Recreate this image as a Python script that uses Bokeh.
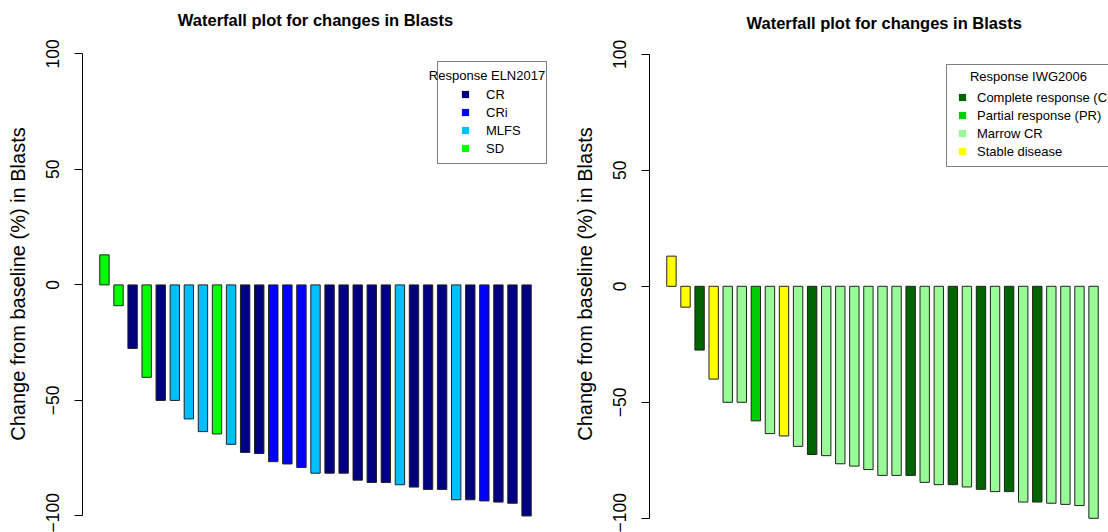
from bokeh.plotting import figure
from bokeh.models import FixedTicker, Legend, LegendItem, Label, ColumnDataSource
from bokeh.layouts import row
from bokeh.transform import factor_cmap
from bokeh.embed import file_html
from bokeh.resources import INLINE

# ---------------- data ----------------
blast_change = [13, -9, -27.5, -40, -50, -50, -58, -63.5, -64.5, -69,
                -72.5, -73, -76.5, -77.5, -79, -81.5, -81.5, -81.5, -84.5, -85.5,
                -85.5, -86.5, -87.5, -88.5, -88.5, -93, -93, -93.5, -94, -94.5, -100]

eln2017 = ["SD", "SD", "CR", "SD", "CR", "MLFS", "MLFS", "MLFS", "SD", "MLFS",
           "CR", "CR", "CRi", "CRi", "CRi", "MLFS", "CR", "CR", "CR", "CR",
           "CR", "MLFS", "CR", "CR", "CR", "MLFS", "CR", "CRi", "CR", "CR", "CR"]

iwg2006 = ["SD", "SD", "CR", "SD", "MCR", "MCR", "PR", "MCR", "SD", "MCR",
           "CR", "MCR", "MCR", "MCR", "MCR", "MCR", "MCR", "CR", "MCR", "MCR",
           "CR", "MCR", "CR", "MCR", "CR", "MCR", "CR", "MCR", "MCR", "MCR", "MCR"]

eln_levels = ["CR", "CRi", "MLFS", "SD"]
eln_labels = ["CR", "CRi", "MLFS", "SD"]
eln_colors = ["#000080", "#0000FF", "#00BFFF", "#00FF00"]

iwg_levels = ["CR", "PR", "MCR", "SD"]
iwg_labels = ["Complete response (CR)", "Partial response (PR)", "Marrow CR", "Stable disease"]
iwg_colors = ["#006400", "#00CD00", "#98FB98", "#FFFF00"]

y_ticks = [-100, -50, 0, 50, 100]
title_text = "Waterfall plot for changes in Blasts"
y_label = "Change from baseline (%) in Blasts"

FONT = "Liberation Sans"
n = len(blast_change)
# barplot positions: bar width 1, space 0.5
xpos = [1.5 * i + 1.0 for i in range(n)]
X0 = 0.5 - 0.04 * (1.5 * n - 0.5)
PPU_X = 9.38   # pixels per x unit
PPU_Y = 2.32   # pixels per y unit
H = 532


def make_panel(cats, levels, labels, colors, legend_title, *, width, border_left,
               border_top, zero_px, x_hi, leg_loc, leg_glyph_w, leg_standoff,
               leg_label_w, leg_title_px, title_align, title_offset, title_standoff):
    y_hi = (zero_px - border_top) / PPU_Y
    y_lo = -(H - zero_px) / PPU_Y
    p = figure(width=width, height=H, x_range=(X0, x_hi), y_range=(y_lo, y_hi),
               output_backend="svg", toolbar_location=None, tools="",
               x_axis_location=None, min_border_left=border_left,
               min_border_right=width - border_left - round((x_hi - X0) * PPU_X),
               min_border_top=border_top, min_border_bottom=0)
    p.outline_line_color = None
    p.grid.visible = False
    p.background_fill_color = "white"

    src = ColumnDataSource(dict(x=xpos, top=blast_change, cat=cats))
    cmap = factor_cmap("cat", palette=colors, factors=levels)
    p.vbar(x="x", top="top", bottom=0, width=1.0, source=src,
           fill_color=cmap, line_color="#222222", line_width=1)
    # zero-size markers that only serve as legend swatches (filled squares)
    sw = p.scatter(x="x", y="top", source=src, marker="square", size=0,
                   fill_color=cmap, line_color=None)

    # y axis
    ax = p.yaxis[0]
    ax.ticker = FixedTicker(ticks=y_ticks)
    ax.bounds = (-100, 100)
    ax.axis_label = y_label
    ax.axis_label_text_font = FONT
    ax.axis_label_text_font_size = "20px"
    ax.axis_label_text_font_style = "normal"
    ax.axis_label_text_color = "black"
    ax.axis_label_standoff = 15
    ax.major_label_text_font = FONT
    ax.major_label_text_font_size = "17.5px"
    ax.major_label_text_color = "black"
    ax.major_label_orientation = "vertical"
    ax.major_label_standoff = 15
    ax.major_tick_out = 8
    ax.major_tick_in = 0
    ax.minor_tick_out = 0
    ax.minor_tick_in = 0
    ax.axis_line_color = "black"
    ax.major_tick_line_color = "black"

    # title
    p.title.text = title_text
    p.title.text_font = FONT
    p.title.text_font_size = "16.5px"
    p.title.text_font_style = "bold"
    p.title.text_color = "black"
    p.title.align = title_align
    p.title.offset = title_offset
    p.title.standoff = title_standoff

    # legend
    items = []
    for lvl, lab in zip(levels, labels):
        items.append(LegendItem(label=lab, renderers=[sw], index=cats.index(lvl)))
    leg = Legend(items=items, location=leg_loc, title=" ",
                 title_text_font=FONT, title_text_font_size="13px", title_standoff=2,
                 label_text_font=FONT, label_text_font_size="13px",
                 label_text_color="black",
                 glyph_width=leg_glyph_w, glyph_height=18, label_height=18,
                 label_width=leg_label_w, label_standoff=leg_standoff,
                 spacing=0, padding=6, margin=0,
                 border_line_color="black", border_line_width=1,
                 background_fill_alpha=0.0)
    p.add_layout(leg)

    # legend title centred over the box (it may run past the box edges)
    tx, ty = leg_title_px
    p.add_layout(Label(x=X0 + (tx - border_left) / PPU_X, y=(zero_px - ty) / PPU_Y,
                       text=legend_title, text_font=FONT, text_font_size="13px",
                       text_color="black", text_align="center", text_baseline="middle"))
    return p


# left panel: frame x 82..548, zero line at y 283.4
p1 = make_panel(eln2017, eln_levels, eln_labels, eln_colors, "Response ELN2017",
                width=560, border_left=82, border_top=33, zero_px=283.4,
                x_hi=48.34,
                leg_loc=(355, 368), leg_glyph_w=42, leg_standoff=0, leg_label_w=54,
                leg_title_px=(486.5, 73),
                title_align="center", title_offset=0, title_standoff=13)

# right panel (starts at x 560): frame from x 649 (local 89), zero line at y 285.8
p2 = make_panel(iwg2006, iwg_levels, iwg_labels, iwg_colors, "Response IWG2006",
                width=548, border_left=89, border_top=35, zero_px=285.8,
                x_hi=X0 + 459 / PPU_X,
                leg_loc=(297, 365), leg_glyph_w=18, leg_standoff=6, leg_label_w=20,
                leg_title_px=(1028 - 560, 76),
                title_align="left", title_offset=97, title_standoff=8)

layout = row(p1, p2)
open("out.html", "w").write(file_html(layout, INLINE))
